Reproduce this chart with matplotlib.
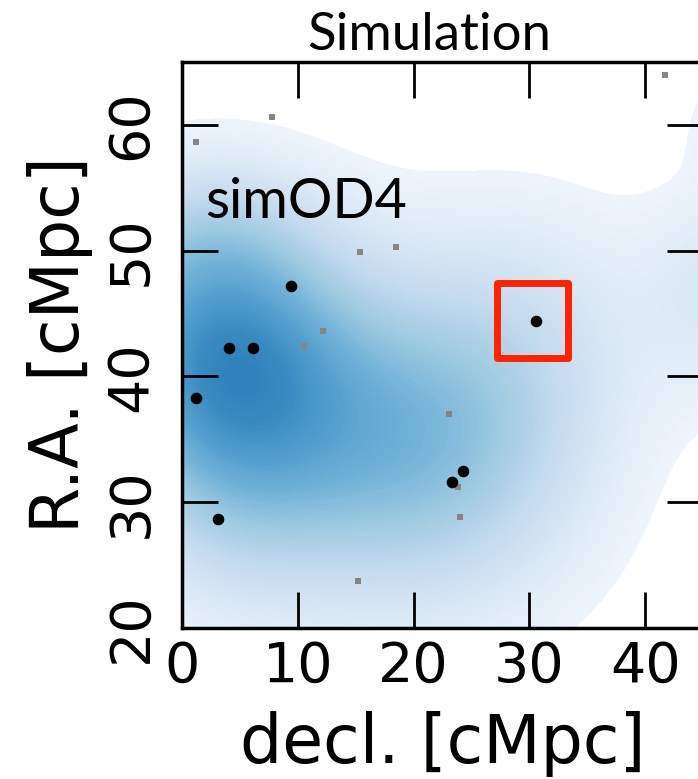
import numpy as np
import matplotlib
matplotlib.use("Agg")
import matplotlib.pyplot as plt
from matplotlib.patches import Rectangle
from matplotlib.colors import Normalize

# ---- data ----
black_x = [9.4, 4.1, 6.1, 1.2, 3.1, 23.3, 24.3, 30.6]
black_y = [47.2, 42.3, 42.3, 38.3, 28.7, 31.6, 32.5, 44.4]
gray_x = [7.8, 1.2, 15.4, 18.5, 12.2, 10.5, 23.1, 23.8, 24.0, 15.2, 41.7]
gray_y = [60.6, 58.6, 49.9, 50.3, 43.6, 42.4, 37.0, 31.2, 28.8, 23.7, 64.0]

# density background: components estimated from the shading
kde_cx = [3, 2, 4, 16, 24, 30, 47, 49]
kde_cy = [42, 52, 29, 35, 33, 44, 47, 60]
kde_sx = [8, 7, 7, 10, 9, 8, 5, 3]
kde_sy = [8, 4, 7, 9, 9, 8, 6, 3]
kde_w = [0.55, 0.09, 0.12, 0.27, 0.18, 0.12, 0.14, 0.15]
kde_thresh = 0.05

xticks = [0, 10, 20, 30, 40]
yticks = [20, 30, 40, 50, 60]
highlight = (27.2, 41.5, 6.1, 5.9)  # x, y, width, height of red box

fig = plt.figure(figsize=(6.98, 7.79), dpi=100)
ax = fig.add_axes([182 / 698, 151 / 779, 521 / 698, 566 / 779])

gx = np.linspace(-2, 50, 300)
gy = np.linspace(15, 70, 300)
GX, GY = np.meshgrid(gx, gy)
dens = np.zeros_like(GX)
for cx, cy, sx, sy, w in zip(kde_cx, kde_cy, kde_sx, kde_sy, kde_w):
    dens += w * np.exp(-((GX - cx) ** 2 / (2 * sx ** 2) + (GY - cy) ** 2 / (2 * sy ** 2)))
levels = np.linspace(kde_thresh, dens.max() + 1e-6, 80)
ax.contourf(GX, GY, dens, levels=levels, cmap="Blues", norm=Normalize(0, 1), zorder=0)

ax.scatter(gray_x, gray_y, s=13, marker="s", color="#858585", linewidths=0, zorder=2)
ax.scatter(black_x, black_y, s=70, color="black", linewidths=0, zorder=3)

ax.add_patch(Rectangle((highlight[0], highlight[1]), highlight[2], highlight[3],
                       fill=False, edgecolor="#ff2200", linewidth=5,
                       joinstyle="round", zorder=4))

ax.set_xlim(0, 45)
ax.set_ylim(20, 65)
ax.set_xticks(xticks)
ax.set_yticks(yticks)
ax.tick_params(axis="both", direction="in", length=26, width=2,
               top=True, right=True, labelsize=40)
ax.tick_params(axis="x", pad=8.5)
ax.tick_params(axis="y", pad=17)
for lab in ax.get_yticklabels():
    lab.set_rotation(90)
    lab.set_va("center")
for sp in ax.spines.values():
    sp.set_linewidth(2.5)

ax.set_xlabel("decl. [cMpc]", fontsize=48)
ax.set_ylabel("R.A. [cMpc]", fontsize=48)
ax.xaxis.set_label_coords(0.5, -0.147)
ax.yaxis.set_label_coords(-0.171, 0.5)

ax.text(0.044, 0.724, "simOD4", transform=ax.transAxes, fontsize=40,
        family=["Lato", "DejaVu Sans"], va="baseline", ha="left")
fig.text(429 / 698, 1 - 50 / 779, "Simulation", fontsize=38,
         family=["Lato", "DejaVu Sans"], va="baseline", ha="center")

fig.savefig("out.png", dpi=100)
